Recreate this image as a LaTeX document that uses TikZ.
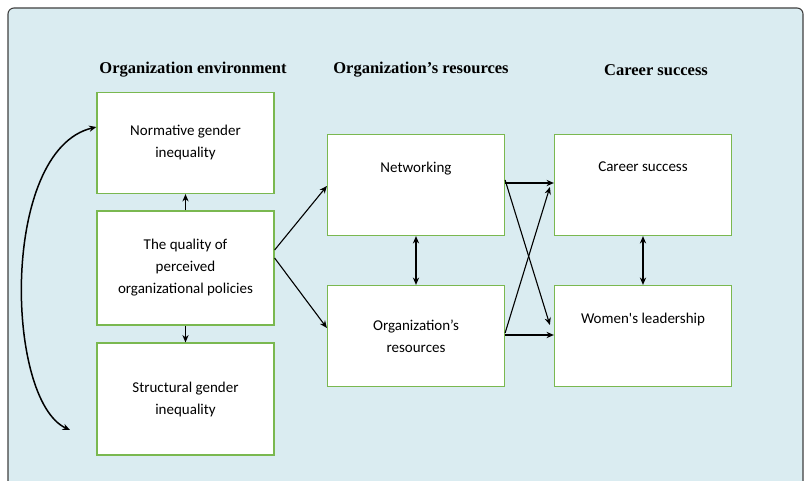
\documentclass[tikz,border=0pt]{standalone}
\usepackage{fontspec}
\setmainfont{Liberation Serif}
\newfontfamily\boxfont{Carlito}
\usetikzlibrary{positioning,arrows.meta}
\tikzset{>={Stealth[width=2.2mm,length=2.6mm]}}
\definecolor{bgblue}{RGB}{218,236,241}
\definecolor{boxgreen}{RGB}{122,184,80}

\begin{document}
\begin{tikzpicture}[x=1pt,y=-1pt, line width=1.1pt]
    \tikzstyle{bnode} = [draw=boxgreen, fill=white, rectangle, line width=1.2pt, minimum width=177pt, minimum height=101pt, align=center, font=\boxfont\fontsize{15}{22}\selectfont]
    \tikzstyle{hnode} = [font=\bfseries\fontsize{16.5}{19}\selectfont]

    \useasboundingbox (0,0) rectangle (810,481);
    \draw[draw=black!75, fill=bgblue, rounded corners=6pt] (8,8) rectangle (803,500);

    \node[hnode] (h1) at (193,70) {Organization environment};
    \node[hnode] (h2) at (421,70) {Organization’s resources};
    \node[hnode] (h3) at (656,70) {Career success};

    \node[bnode] (norm) at (185.5,143) {Normative gender\\inequality};
    \node[bnode, minimum height=114pt] (qual) at (185.5,268) {The quality of\\perceived\\organizational policies};
    \node[bnode, minimum height=112pt] (struc) at (185.5,399) {Structural gender\\inequality};

    \node[bnode] (net) at (416,185) {Networking\\[14pt]};
    \node[bnode] (res) at (416,336) {Organization’s\\resources};

    \node[bnode] (car) at (643,185) {Career success\\[14pt]};
    \node[bnode] (wom) at (643,336) {Women's leadership\\[14pt]};

    \coordinate (cend) at (70,430);

    \draw[->] (qual) -- (norm);
    \draw[->] (qual) -- (struc);
    \draw[->] (qual.east |- 0,250) -- (net.west |- 0,186);
    \draw[->] (qual.east |- 0,258) -- (res.west |- 0,328);
    \draw[<->] (net) -- (res);
    \draw[<->] (car) -- (wom);
    \draw[->] (net.east |- 0,183) -- (car.west |- 0,183);
    \draw[->] (net.east |- 0,180) -- ([xshift=-4pt]wom.west |- 0,325);
    \draw[->] (res.east |- 0,333) -- ([xshift=-4pt]car.west |- 0,187);
    \draw[->] (res.east |- 0,335) -- (wom.west |- 0,335);

    \draw[<->, line width=1.5pt] (norm.west |- 0,127) .. controls (0,150) and (5,400) .. (cend);
\end{tikzpicture}
\end{document}
